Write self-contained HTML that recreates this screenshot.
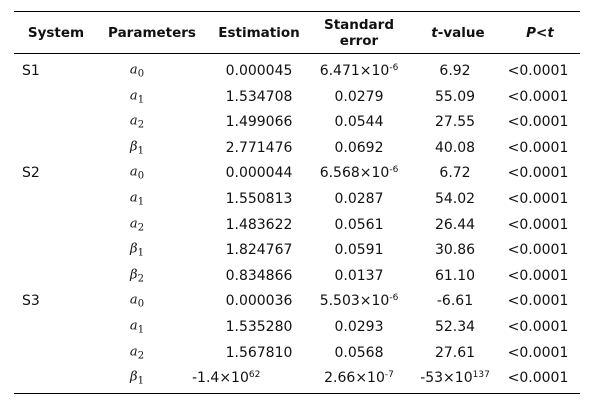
<!DOCTYPE html>
<html><head><meta charset="utf-8"><style>
body{margin:0;background:#fff;}
#w{position:relative;width:607px;height:406px;font-family:"DejaVu Sans","Liberation Sans",sans-serif;font-size:14px;color:#111;}
.c{position:absolute;white-space:nowrap;transform:translate(-50%,-50%);}
.l{position:absolute;white-space:nowrap;transform:translateY(-50%);}
.h{font-weight:bold;text-align:center;line-height:16px;font-size:13.5px;}
.p{font-family:"DejaVu Serif","Liberation Serif",serif;font-style:italic;font-size:13px;}
.p sub{font-style:normal;font-size:10px;vertical-align:-3px;}
sup{font-size:9px;vertical-align:5px;line-height:0;}
.line{position:absolute;left:14px;width:566px;height:1px;background:#000;}
</style></head><body><div id="w">
<div class="line" style="top:11px"></div>
<div class="line" style="top:53px"></div>
<div class="line" style="top:393px"></div>
<div class="c h" style="left:56px;top:33px">System</div>
<div class="c h" style="left:152px;top:33px">Parameters</div>
<div class="c h" style="left:259px;top:33px">Estimation</div>
<div class="c h" style="left:359px;top:33px">Standard<br>error</div>
<div class="c h" style="left:458px;top:33px"><i>t</i>-value</div>
<div class="c h" style="left:540px;top:33px"><i>P&lt;t</i></div>
<div id="rows"></div>
</div>
<script>
var d=[
["S1","a","0","0.000045","6.471×10<sup>-6</sup>","6.92"],
["","a","1","1.534708","0.0279","55.09"],
["","a","2","1.499066","0.0544","27.55"],
["","β","1","2.771476","0.0692","40.08"],
["S2","a","0","0.000044","6.568×10<sup>-6</sup>","6.72"],
["","a","1","1.550813","0.0287","54.02"],
["","a","2","1.483622","0.0561","26.44"],
["","β","1","1.824767","0.0591","30.86"],
["","β","2","0.834866","0.0137","61.10"],
["S3","a","0","0.000036","5.503×10<sup>-6</sup>","-6.61"],
["","a","1","1.535280","0.0293","52.34"],
["","a","2","1.567810","0.0568","27.61"],
["","β","1","-1.4×10<sup>62</sup>","2.66×10<sup>-7</sup>","-53×10<sup>137</sup>"]];
var h="";
d.forEach(function(r,i){var y=(71+i*25.6).toFixed(1);
if(r[0])h+='<div class="l" style="left:22px;top:'+y+'px">'+r[0]+'</div>';
h+='<div class="c p" style="left:137px;top:'+y+'px">'+r[1]+'<sub>'+r[2]+'</sub></div>';
if(i==12)h+='<div class="l" style="left:192px;top:'+y+'px">'+r[3]+'</div>';
else h+='<div class="c" style="left:259px;top:'+y+'px">'+r[3]+'</div>';
h+='<div class="c" style="left:359px;top:'+y+'px">'+r[4]+'</div>';
h+='<div class="c" style="left:455px;top:'+y+'px">'+r[5]+'</div>';
h+='<div class="c" style="left:538px;top:'+y+'px">&lt;0.0001</div>';});
document.getElementById("rows").innerHTML=h;
</script></body></html>
